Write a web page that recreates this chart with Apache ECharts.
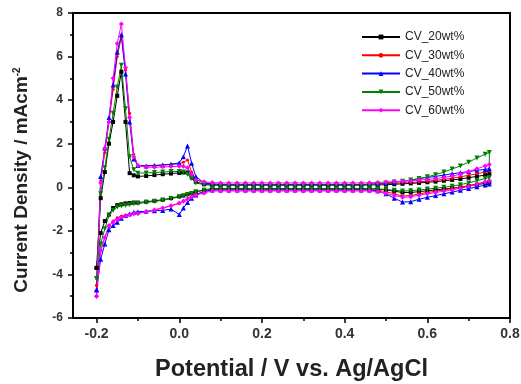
<!DOCTYPE html>
<html><head><meta charset="utf-8">
<script src="https://cdn.jsdelivr.net/npm/echarts@6/dist/echarts.min.js"></script>
<style>html,body{margin:0;padding:0;background:#fff}#c{width:521px;height:384px}</style>
</head><body><div id="c"></div>
<script>
// Potential grid (V vs. Ag/AgCl): anodic sweep and cathodic return sweep
const potentialForward = [-0.20,-0.19,-0.18,-0.17,-0.16,-0.15,-0.14,-0.13,-0.12,-0.11,-0.10,
  -0.08,-0.06,-0.04,-0.02,0.00,0.01,0.02,0.03,
  0.04,0.06,0.08,0.10,0.12,0.14,0.16,0.18,0.20,0.22,0.24,0.26,0.28,0.30,0.32,0.34,0.36,0.38,0.40,0.42,0.44,0.46,0.48,0.50,0.52,0.54,0.56,0.58,0.60,0.62,0.64,0.66,0.68,0.70,0.72,0.74,0.75];
const potentialReverse = [0.75,0.74,0.72,0.70,0.68,0.66,0.64,0.62,0.60,0.58,0.56,0.54,0.52,0.50,0.48,0.46,0.44,0.42,0.40,0.38,0.36,0.34,0.32,0.30,0.28,0.26,0.24,0.22,0.20,0.18,0.16,0.14,0.12,0.10,0.08,0.06,0.04,
  0.03,0.02,0.01,0.00,-0.02,-0.04,-0.06,-0.08,
  -0.10,-0.11,-0.12,-0.13,-0.14,-0.15,-0.16,-0.17,-0.18,-0.19,-0.20];

const seriesNames = ['CV_20wt%','CV_30wt%','CV_40wt%','CV_50wt%','CV_60wt%'];

// Current density (mA cm^-2)
const cv20Forward = [-3.7,-0.5,0.7,2.0,3.0,4.2,5.3,3.0,0.65,0.55,0.5,
  0.52,0.56,0.6,0.63,0.66,0.68,0.68,0.45,
  0.25,0.14,0.1,0.1,0.1,0.1,0.1,0.1,0.1,0.1,0.1,0.1,0.1,0.1,0.1,0.1,0.1,0.1,0.1,0.1,0.1,0.11,0.11,0.12,0.14,0.16,0.18,0.2,0.23,0.26,0.3,0.34,0.38,0.44,0.5,0.56,0.62];
const cv20Reverse = [0.22,0.18,0.12,0.06,0.0,-0.04,-0.08,-0.12,-0.16,-0.2,-0.24,-0.24,-0.18,-0.12,-0.08,
  -0.06,-0.06,-0.06,-0.06,-0.06,-0.06,-0.06,-0.06,-0.06,-0.06,-0.06,-0.06,-0.06,-0.06,-0.06,-0.06,-0.06,-0.06,-0.06,-0.06,-0.12,-0.2,
  -0.26,-0.32,-0.38,-0.42,-0.5,-0.57,-0.62,-0.66,
  -0.7,-0.7,-0.72,-0.74,-0.78,-0.82,-0.95,-1.25,-1.55,-2.1,-3.7];

const cv30Forward = [-4.5,0.3,1.6,3.0,4.5,6.0,6.9,5.4,3.4,1.5,1.0,
  0.98,1.0,1.02,1.05,1.08,1.15,1.25,0.7,
  0.35,0.2,0.15,0.14,0.13,0.13,0.13,0.13,0.13,0.13,0.13,0.13,0.13,0.13,0.13,0.13,0.13,0.13,0.13,0.13,0.13,0.14,0.15,0.16,0.18,0.2,0.22,0.25,0.28,0.32,0.36,0.42,0.48,0.55,0.62,0.7,0.75];
const cv30Reverse = [0.3,0.25,0.16,0.08,0.0,-0.06,-0.12,-0.18,-0.24,-0.3,-0.38,-0.4,-0.3,-0.2,-0.14,
  -0.12,-0.12,-0.12,-0.12,-0.12,-0.12,-0.12,-0.12,-0.12,-0.12,-0.12,-0.12,-0.12,-0.12,-0.12,-0.12,-0.12,-0.12,-0.12,-0.12,-0.2,-0.32,
  -0.42,-0.52,-0.62,-0.74,-0.85,-0.95,-1.04,-1.12,
  -1.18,-1.2,-1.24,-1.28,-1.32,-1.4,-1.55,-1.8,-2.3,-2.9,-4.5];

const cv40Forward = [-4.7,0.5,1.8,3.2,4.7,6.2,7.0,5.2,3.0,1.3,1.0,
  0.98,1.0,1.02,1.06,1.12,1.4,1.9,1.1,
  0.5,0.2,0.14,0.13,0.12,0.12,0.12,0.12,0.12,0.12,0.12,0.12,0.12,0.12,0.12,0.12,0.12,0.12,0.12,0.12,0.12,0.14,0.16,0.19,0.23,0.28,0.33,0.4,0.45,0.5,0.56,0.62,0.67,0.72,0.78,0.82,0.85];
const cv40Reverse = [0.15,0.1,0.02,-0.06,-0.14,-0.22,-0.3,-0.38,-0.46,-0.55,-0.66,-0.68,-0.5,-0.3,-0.16,
  -0.12,-0.12,-0.12,-0.12,-0.12,-0.12,-0.12,-0.12,-0.12,-0.12,-0.12,-0.12,-0.12,-0.12,-0.12,-0.12,-0.12,-0.12,-0.12,-0.12,-0.2,-0.35,
  -0.5,-0.7,-0.95,-1.25,-1.0,-1.06,-1.08,-1.1,
  -1.12,-1.15,-1.22,-1.3,-1.42,-1.6,-1.75,-1.95,-2.6,-3.3,-4.7];

const cv50Forward = [-4.2,-0.3,0.9,2.2,3.4,4.6,5.6,3.6,1.4,0.8,0.65,
  0.66,0.68,0.7,0.72,0.72,0.7,0.6,0.4,
  0.2,0.12,0.1,0.1,0.1,0.1,0.1,0.1,0.1,0.1,0.1,0.1,0.1,0.1,0.1,0.1,0.1,0.1,0.1,0.1,0.1,0.12,0.15,0.2,0.24,0.28,0.33,0.4,0.48,0.58,0.7,0.84,0.98,1.15,1.35,1.52,1.6];
const cv50Reverse = [0.45,0.4,0.3,0.2,0.12,0.05,0.0,-0.04,-0.08,-0.12,-0.16,-0.17,-0.14,-0.1,-0.08,
  -0.07,-0.07,-0.07,-0.07,-0.07,-0.07,-0.07,-0.07,-0.07,-0.07,-0.07,-0.07,-0.07,-0.07,-0.07,-0.07,-0.07,-0.07,-0.07,-0.07,-0.14,-0.22,
  -0.28,-0.34,-0.4,-0.45,-0.52,-0.6,-0.65,-0.7,
  -0.74,-0.76,-0.8,-0.82,-0.85,-0.9,-1.05,-1.3,-1.9,-2.6,-4.2];

const cv60Forward = [-5.0,0.2,1.8,3.0,5.0,6.6,7.5,5.5,3.2,1.4,1.0,
  0.92,0.92,0.94,0.95,0.96,0.96,0.9,0.6,
  0.35,0.25,0.22,0.2,0.2,0.2,0.2,0.2,0.2,0.2,0.2,0.2,0.2,0.2,0.2,0.2,0.2,0.2,0.2,0.2,0.2,0.21,0.22,0.24,0.26,0.28,0.3,0.33,0.36,0.4,0.45,0.52,0.6,0.72,0.85,0.98,1.05];
const cv60Reverse = [0.3,0.24,0.14,0.04,-0.04,-0.12,-0.18,-0.24,-0.3,-0.36,-0.44,-0.46,-0.38,-0.28,-0.2,
  -0.17,-0.17,-0.17,-0.17,-0.17,-0.17,-0.17,-0.17,-0.17,-0.17,-0.17,-0.17,-0.17,-0.17,-0.17,-0.17,-0.17,-0.17,-0.17,-0.17,-0.26,-0.36,
  -0.45,-0.55,-0.64,-0.72,-0.85,-0.95,-1.04,-1.12,
  -1.2,-1.22,-1.27,-1.32,-1.38,-1.48,-1.6,-1.75,-2.3,-2.9,-5.0];

const xMajorTicks = [-0.2,0.0,0.2,0.4,0.6,0.8];
const xMinorTicks = [-0.1,0.1,0.3,0.5,0.7];

const currents = [
  [cv20Forward, cv20Reverse],
  [cv30Forward, cv30Reverse],
  [cv40Forward, cv40Reverse],
  [cv50Forward, cv50Reverse],
  [cv60Forward, cv60Reverse]
];
const colors = ['#000000','#ff0000','#0000ff','#008000','#ff00ff'];
const symbols = ['rect','circle','triangle','triangle','diamond'];
const symbolRotates = [0,0,0,180,0];
const symbolSizes = [4,3,5,5,5];

function loop(fwd, rev) {
  const d = [];
  potentialForward.forEach((v, i) => d.push([v, fwd[i]]));
  potentialReverse.forEach((v, i) => d.push([v, rev[i]]));
  return d;
}

const FONT = '"Liberation Sans", Arial, sans-serif';
const chart = echarts.init(document.getElementById('c'), null, {renderer: 'canvas'});
chart.setOption({
  animation: false,
  backgroundColor: '#fff',
  grid: {left: 73, right: 11, top: 13, bottom: 66, show: true, borderColor: '#000', borderWidth: 2,
    containLabel: false, outerBoundsMode: 'none'},
  legend: {
    orient: 'vertical', left: 356, top: 26, itemWidth: 38, itemHeight: 6, itemGap: 6.3,
    data: seriesNames,
    textStyle: {fontFamily: FONT, fontSize: 12, color: '#222'}
  },
  graphic: [{
    type: 'text', x: 22, y: 180, rotation: Math.PI / 2, z: 10,
    style: {
      text: 'Current Density / mAcm{sup|-2}', fontFamily: FONT, fontSize: 19, fontWeight: 'bold', fill: '#222',
      align: 'center', verticalAlign: 'middle',
      rich: {sup: {fontFamily: FONT, fontSize: 10, fontWeight: 'bold', fill: '#222', verticalAlign: 'top', lineHeight: 19}}
    }
  }],
  xAxis: [{
    type: 'value', min: -0.257, max: 0.8, position: 'bottom',
    axisLine: {onZero: false, lineStyle: {color: '#000', width: 2}},
    axisTick: {show: true, customValues: xMajorTicks, length: 5, lineStyle: {color: '#000', width: 1.5}},
    axisLabel: {customValues: xMajorTicks, formatter: v => v.toFixed(1), fontFamily: FONT, fontSize: 14, fontWeight: 'bold', color: '#333', margin: 9},
    splitLine: {show: false},
    name: 'Potential / V vs. Ag/AgCl', nameLocation: 'middle', nameGap: 40,
    nameTextStyle: {fontFamily: FONT, fontSize: 23.5, fontWeight: 'bold', color: '#222'}
  }, {
    type: 'value', min: -0.257, max: 0.8, position: 'bottom',
    axisLine: {show: false, onZero: false},
    axisTick: {show: true, customValues: xMinorTicks, length: 3, lineStyle: {color: '#000', width: 1.5}},
    axisLabel: {show: false},
    splitLine: {show: false}
  }],
  yAxis: {
    type: 'value', min: -6, max: 8, interval: 2,
    axisLine: {show: true, onZero: false, lineStyle: {color: '#000', width: 2}},
    axisTick: {show: true, length: 5, lineStyle: {color: '#000', width: 1.5}},
    minorTick: {show: true, splitNumber: 2, length: 3, lineStyle: {color: '#000', width: 1.5}},
    splitLine: {show: false},
    axisLabel: {fontFamily: FONT, fontSize: 12, fontWeight: 'bold', color: '#333', margin: 10}
  },
  series: seriesNames.map((name, k) => ({
    name, type: 'line', xAxisIndex: 0,
    data: loop(currents[k][0], currents[k][1]),
    color: colors[k],
    symbol: symbols[k], symbolRotate: symbolRotates[k], symbolSize: symbolSizes[k],
    showAllSymbol: true,
    lineStyle: {width: 1, color: colors[k]},
    itemStyle: {color: colors[k]}
  }))
});
</script>
</body></html>
